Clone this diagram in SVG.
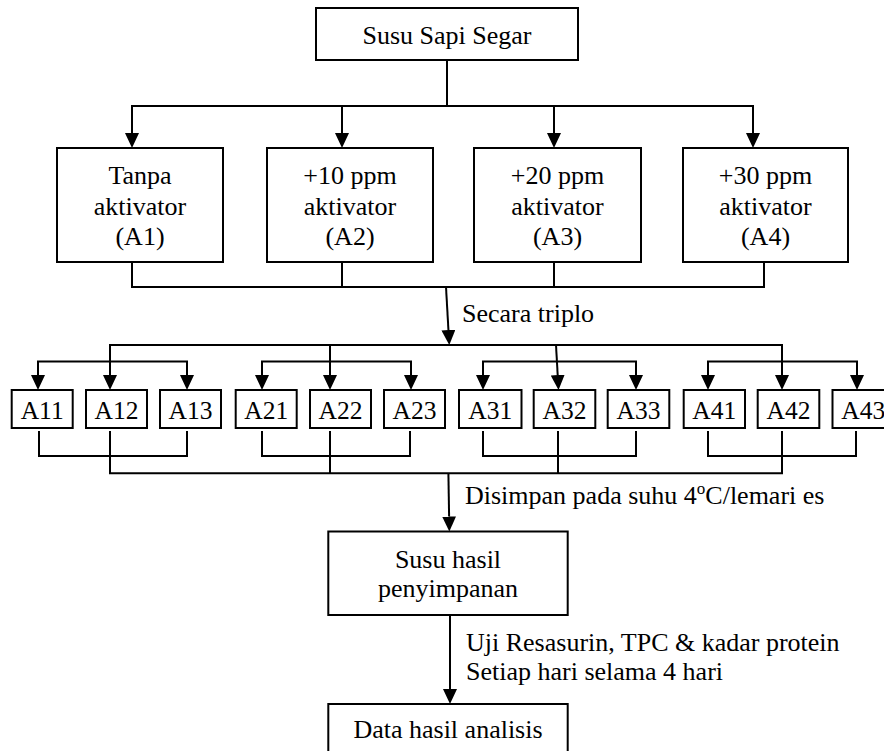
<svg xmlns="http://www.w3.org/2000/svg" width="884" height="751" viewBox="0 0 884 751">
<style>
  .box { fill: #ffffff; stroke: #000000; stroke-width: 2; }
  .ln { fill: none; stroke: #000000; stroke-width: 2; }
  .arr { fill: none; stroke: #000000; stroke-width: 2; marker-end: url(#ah); }
  text { font-family: 'Liberation Serif', Tinos, 'Times New Roman', 'DejaVu Serif', serif; font-size: 26px; fill: #000000; }
  .c { text-anchor: middle; }
  .s { font-size: 25.5px; text-anchor: middle; }
</style>
<defs>
  <marker id="ah" viewBox="0 0 15 14" refX="0" refY="7" markerWidth="15" markerHeight="14" markerUnits="userSpaceOnUse" orient="auto">
    <path d="M0,0 L15,7 L0,14 z" fill="#000000"/>
  </marker>
</defs>
<rect width="884" height="751" fill="#ffffff"/>

<g id="connectors">
  <line class="ln" x1="447" y1="60" x2="447" y2="106"/>
  <line class="ln" x1="131" y1="106" x2="754" y2="106"/>
  <line class="arr" x1="132" y1="106" x2="132" y2="133"/>
  <line class="arr" x1="342" y1="106" x2="342" y2="133"/>
  <line class="arr" x1="554" y1="106" x2="554" y2="133"/>
  <line class="arr" x1="753" y1="106" x2="753" y2="133"/>
  <polyline class="ln" points="132,262 132,287 764,287 764,262"/>
  <line class="ln" x1="342" y1="262" x2="342" y2="287"/>
  <line class="ln" x1="554" y1="262" x2="554" y2="287"/>
  <line class="arr" x1="446" y1="287" x2="448.45" y2="330"/>
  <line class="ln" x1="109" y1="345" x2="783" y2="345"/>
  <line class="arr" x1="110" y1="345" x2="110" y2="375"/>
  <line class="arr" x1="330" y1="345" x2="330" y2="375"/>
  <line class="arr" x1="556" y1="345" x2="557.7" y2="375"/>
  <line class="arr" x1="782" y1="345" x2="782" y2="375"/>
  <polyline class="arr" points="38,375 38,361.5 187,361.5 187,375"/>
  <line class="arr" x1="38" y1="361.5" x2="38" y2="375"/>
  <polyline class="arr" points="262,375 262,361.5 411,361.5 411,375"/>
  <line class="arr" x1="262" y1="361.5" x2="262" y2="375"/>
  <polyline class="arr" points="483,375 483,361.5 636,361.5 636,375"/>
  <line class="arr" x1="483" y1="361.5" x2="483" y2="375"/>
  <polyline class="arr" points="708,375 708,361.5 857,361.5 857,375"/>
  <line class="arr" x1="708" y1="361.5" x2="708" y2="375"/>
  <polyline class="ln" points="39,431 39,456 187,456 187,431"/>
  <polyline class="ln" points="262,431 262,456 410,456 410,431"/>
  <polyline class="ln" points="483,431 483,456 636,456 636,431"/>
  <polyline class="ln" points="708,431 708,456 856,456 856,431"/>
  <polyline class="ln" points="110,431 110,473.3 782,473.3 782,431"/>
  <line class="ln" x1="330" y1="431" x2="330" y2="473.3"/>
  <line class="ln" x1="558" y1="431" x2="558" y2="473.3"/>
  <line class="arr" x1="448.4" y1="473.3" x2="449.1" y2="516.5"/>
  <line class="arr" x1="450" y1="615" x2="450" y2="689"/>
</g>

<g id="n-susu-sapi-segar">
  <rect class="box" x="316" y="8" width="262" height="52"/>
  <text class="c" x="447" y="44">Susu Sapi Segar</text>
</g>

<g id="n-a1">
  <rect class="box" x="57" y="148" width="166" height="114"/>
  <text class="c" x="140" y="184">Tanpa</text>
  <text class="c" x="140" y="214.5">aktivator</text>
  <text class="c" x="140" y="244.5">(A1)</text>
</g>
<g id="n-a2">
  <rect class="box" x="267" y="148" width="166" height="114"/>
  <text class="c" x="350" y="184">+10 ppm</text>
  <text class="c" x="350" y="214.5">aktivator</text>
  <text class="c" x="350" y="244.5">(A2)</text>
</g>
<g id="n-a3">
  <rect class="box" x="474" y="148" width="167" height="114"/>
  <text class="c" x="557.5" y="184">+20 ppm</text>
  <text class="c" x="557.5" y="214.5">aktivator</text>
  <text class="c" x="557.5" y="244.5">(A3)</text>
</g>
<g id="n-a4">
  <rect class="box" x="683" y="148" width="165" height="114"/>
  <text class="c" x="765.5" y="184">+30 ppm</text>
  <text class="c" x="765.5" y="214.5">aktivator</text>
  <text class="c" x="765.5" y="244.5">(A4)</text>
</g>

<g id="label-triplo">
  <text x="462" y="322">Secara triplo</text>
</g>

<g id="n-a11"><rect class="box" x="11.7" y="390" width="61" height="38"/><text class="s" x="42.2" y="419">A11</text></g>
<g id="n-a12"><rect class="box" x="86" y="390" width="61" height="38"/><text class="s" x="116.5" y="419">A12</text></g>
<g id="n-a13"><rect class="box" x="160" y="390" width="61" height="38"/><text class="s" x="190.5" y="419">A13</text></g>
<g id="n-a21"><rect class="box" x="235.7" y="390" width="61" height="38"/><text class="s" x="266.2" y="419">A21</text></g>
<g id="n-a22"><rect class="box" x="310" y="390" width="61" height="38"/><text class="s" x="340.5" y="419">A22</text></g>
<g id="n-a23"><rect class="box" x="384" y="390" width="61" height="38"/><text class="s" x="414.5" y="419">A23</text></g>
<g id="n-a31"><rect class="box" x="459" y="390" width="62.5" height="38"/><text class="s" x="490.3" y="419">A31</text></g>
<g id="n-a32"><rect class="box" x="533.7" y="390" width="61.6" height="38"/><text class="s" x="564.5" y="419">A32</text></g>
<g id="n-a33"><rect class="box" x="607.7" y="390" width="61.6" height="38"/><text class="s" x="638.5" y="419">A33</text></g>
<g id="n-a41"><rect class="box" x="683.7" y="390" width="61.3" height="38"/><text class="s" x="714.3" y="419">A41</text></g>
<g id="n-a42"><rect class="box" x="757.7" y="390" width="61.6" height="38"/><text class="s" x="788.5" y="419">A42</text></g>
<g id="n-a43"><rect class="box" x="832.5" y="390" width="61.6" height="38"/><text class="s" x="863.3" y="419">A43</text></g>

<g id="label-disimpan">
  <text x="465" y="504">Disimpan pada suhu 4<tspan font-size="17" dy="-10">o</tspan><tspan dy="10">C/lemari es</tspan></text>
</g>

<g id="n-susu-hasil">
  <rect class="box" x="328.3" y="531.5" width="239.4" height="83.5"/>
  <text class="c" x="448" y="567.5">Susu hasil</text>
  <text class="c" x="448" y="597">penyimpanan</text>
</g>

<g id="label-uji">
  <text x="466" y="651">Uji Resasurin, TPC &amp; kadar protein</text>
  <text x="466" y="680">Setiap hari selama 4 hari</text>
</g>

<g id="n-data">
  <rect class="box" x="328.3" y="704" width="239.4" height="70"/>
  <text class="c" x="448" y="738">Data hasil analisis</text>
</g>
</svg>
